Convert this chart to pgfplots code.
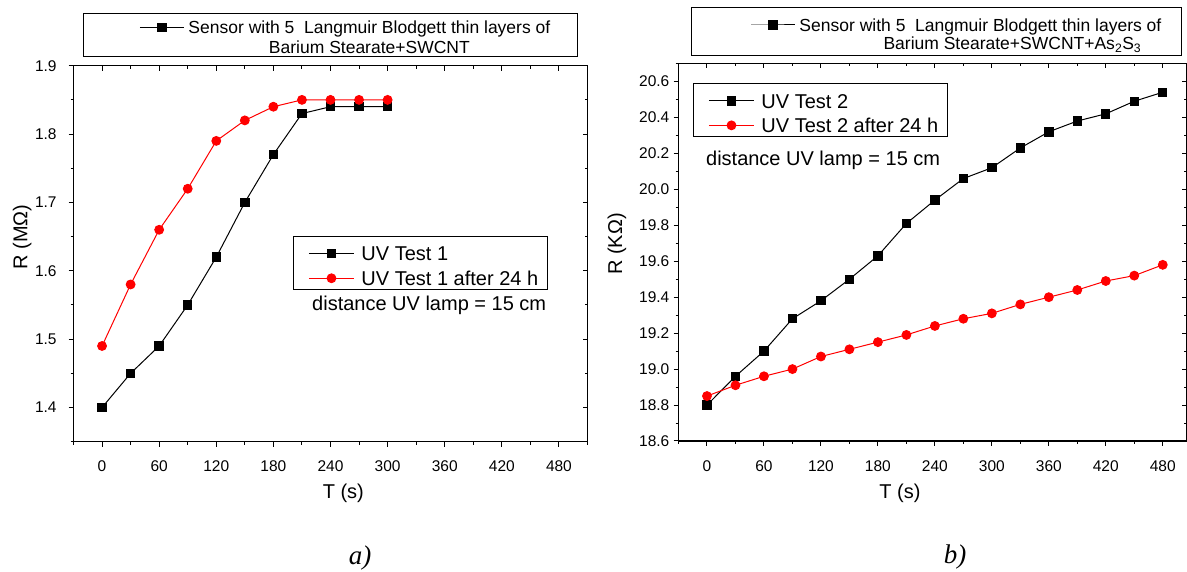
\documentclass[border=0pt]{standalone}
\usepackage{fontspec}
\setmainfont{Liberation Sans}
\newfontfamily\timesfont{Liberation Serif}
\usepackage{pgfplots}
\pgfplotsset{compat=1.18}
\pgfplotsset{
  base/.style={
    scale only axis,
    axis line style={line width=1.3pt},
    tick align=center,
    major tick length=5pt, minor tick length=3pt,
    tick style={black, line width=1pt},
    major x tick style={yshift=-2.5pt},
    minor x tick style={yshift=-1.5pt},
    major y tick style={xshift=-2.5pt},
    minor y tick style={xshift=-1.5pt},
    tick label style={font=\fontsize{15.5}{18}\selectfont},
    /pgf/number format/assume math mode=true,
    xmin=-30, xtick={0,60,120,180,240,300,360,420,480},
    minor xtick={-30,30,90,150,210,270,330,390,450,510},
    xticklabel style={inner sep=0pt, yshift=-16.6pt},
    label style={font=\fontsize{20}{24}\selectfont},
    xlabel={T (s)},
    legend image code/.code={
      \path (-15pt,7.16pt) (52pt,7.16pt);
      \draw[mark repeat=2,mark phase=2,##1] plot coordinates {(0pt,7.16pt) (22.5pt,7.16pt) (45pt,7.16pt)};},
    legend style={draw=black, line width=1pt, inner xsep=0pt, inner ysep=2pt,
      font=\fontsize{20}{24}\selectfont,
      nodes={inner sep=0pt, text height=22.4pt, text depth=2.1pt},
      cells={anchor=base west},
      /tikz/column sep=0pt, /tikz/row sep=0pt},
  },
  topbox/.style={
    scale only axis, hide axis, xmin=0, xmax=1, ymin=0, ymax=1,
    legend image code/.code={
      \path (-#1,6.27pt) (48pt,6.27pt);
      \draw[mark repeat=2,mark phase=2,##1] plot coordinates {(0pt,6.27pt) (22pt,6.27pt) (44pt,6.27pt)};},
    legend style={draw=black, line width=1pt, inner xsep=0pt,
      font=\fontsize{17.5}{20}\selectfont,
      cells={anchor=base},
      /tikz/column sep=0pt, /tikz/row sep=0pt},
  },
  blk/.style={black, line width=1pt, mark=square*, mark size=4.2pt, mark options={solid}},
  rd/.style={red, line width=1pt, mark=*, mark size=4.4pt, mark options={solid}},
}
\begin{document}
\begin{tikzpicture}
\useasboundingbox (0pt,0pt) rectangle (1187pt,572pt);
% ---------------- left panel ----------------
\begin{axis}[base,
  at={(73.5pt,130.3pt)}, anchor=south west, width=514pt, height=376pt,
  xmax=510, ymin=1.35, ymax=1.9,
  ytick={1.4,1.5,1.6,1.7,1.8,1.9},
  minor ytick={1.35,1.45,1.55,1.65,1.75,1.85},
  yticklabel style={inner sep=0pt, xshift=-14.2pt, /pgf/number format/.cd, fixed, fixed zerofill, precision=1},
  ylabel={R (MΩ)},
  ylabel style={at={(axis description cs:-0.1,0.544)}, anchor=center},
  xlabel style={at={(axis description cs:0.525,-0.136)}, anchor=center},
  legend style={at={(axis description cs:0.427,0.547)}, anchor=north west},
]
\addplot[blk] table[x=t, y=R] {
t R
0 1.40
30 1.45
60 1.49
90 1.55
120 1.62
150 1.70
180 1.77
210 1.83
240 1.84
270 1.84
300 1.84
};
\addlegendentry{UV Test 1}
\addplot[rd] table[x=t, y=R] {
t R
0 1.49
30 1.58
60 1.66
90 1.72
120 1.79
150 1.82
180 1.84
210 1.85
240 1.85
270 1.85
300 1.85
};
\addlegendentry{UV Test 1 after 24 h\hspace*{9pt}}
\node[anchor=west, font=\fontsize{20}{24}\selectfont, inner sep=0pt] at (axis description cs:0.464,0.364) {distance UV lamp = 15 cm};
\end{axis}
\begin{axis}[topbox=55.7pt,
  at={(73.5pt,130.3pt)}, anchor=south west, width=514pt, height=376pt,
  legend style={at={(axis description cs:0.019,1.139)}, anchor=north west, inner ysep=1.3pt,
    nodes={inner sep=0pt, text height=18.6pt, text depth=1.4pt}},
]
\addlegendimage{blk}
\addlegendentry{Sensor with 5\ \ Langmuir Blodgett thin layers of\hspace*{27pt}}
\addlegendimage{empty legend}
\addlegendentry{Barium Stearate+SWCNT\hspace*{27pt}}
\end{axis}
% ---------------- right panel ----------------
\begin{axis}[base,
  at={(678.5pt,131pt)}, anchor=south west, width=508pt, height=377.5pt,
  xmax=505, ymin=18.6, ymax=20.7,
  ytick={18.6,18.8,19.0,19.2,19.4,19.6,19.8,20.0,20.2,20.4,20.6},
  minor ytick={18.7,18.9,19.1,19.3,19.5,19.7,19.9,20.1,20.3,20.5,20.7},
  yticklabel style={inner sep=0pt, xshift=-6.5pt, /pgf/number format/.cd, fixed, fixed zerofill, precision=1},
  ylabel={R (KΩ)},
  ylabel style={at={(axis description cs:-0.121,0.522)}, anchor=center},
  xlabel style={at={(axis description cs:0.436,-0.138)}, anchor=center},
  legend style={at={(axis description cs:0.0285,0.948)}, anchor=north west},
]
\addplot[blk] table[x=t, y=R] {
t R
0 18.80
30 18.96
60 19.10
90 19.28
120 19.38
150 19.50
180 19.63
210 19.81
240 19.94
270 20.06
300 20.12
330 20.23
360 20.32
390 20.38
420 20.42
450 20.49
480 20.54
};
\addlegendentry{UV Test 2}
\addplot[rd] table[x=t, y=R] {
t R
0 18.85
30 18.91
60 18.96
90 19.00
120 19.07
150 19.11
180 19.15
210 19.19
240 19.24
270 19.28
300 19.31
330 19.36
360 19.40
390 19.44
420 19.49
450 19.52
480 19.58
};
\addlegendentry{UV Test 2 after 24 h\hspace*{9pt}}
\node[anchor=west, font=\fontsize{20}{24}\selectfont, inner sep=0pt] at (axis description cs:0.054,0.744) {distance UV lamp = 15 cm};
\end{axis}
\begin{axis}[topbox=59pt,
  at={(678.5pt,131pt)}, anchor=south west, width=508pt, height=377.5pt,
  legend style={at={(axis description cs:0.0246,1.150)}, anchor=north west, inner ysep=5.2pt,
    nodes={inner sep=0pt, text height=18.7pt, text depth=0pt}},
]
\addlegendimage{blk}
\addlegendentry{Sensor with 5\ \ Langmuir Blodgett thin layers of\hspace*{20pt}}
\addlegendimage{empty legend}
\addlegendentry{\hspace*{64pt}Barium Stearate+SWCNT+As\textsubscript{2}S\textsubscript{3}\hspace*{20pt}}
\end{axis}
% ---------------- panel letters ----------------
\node[font=\timesfont\itshape\fontsize{27}{30}\selectfont, inner sep=0pt] at (360pt,14pt) {a)};
\node[font=\timesfont\itshape\fontsize{27}{30}\selectfont, inner sep=0pt] at (955pt,15pt) {b)};
\end{tikzpicture}
\end{document}
